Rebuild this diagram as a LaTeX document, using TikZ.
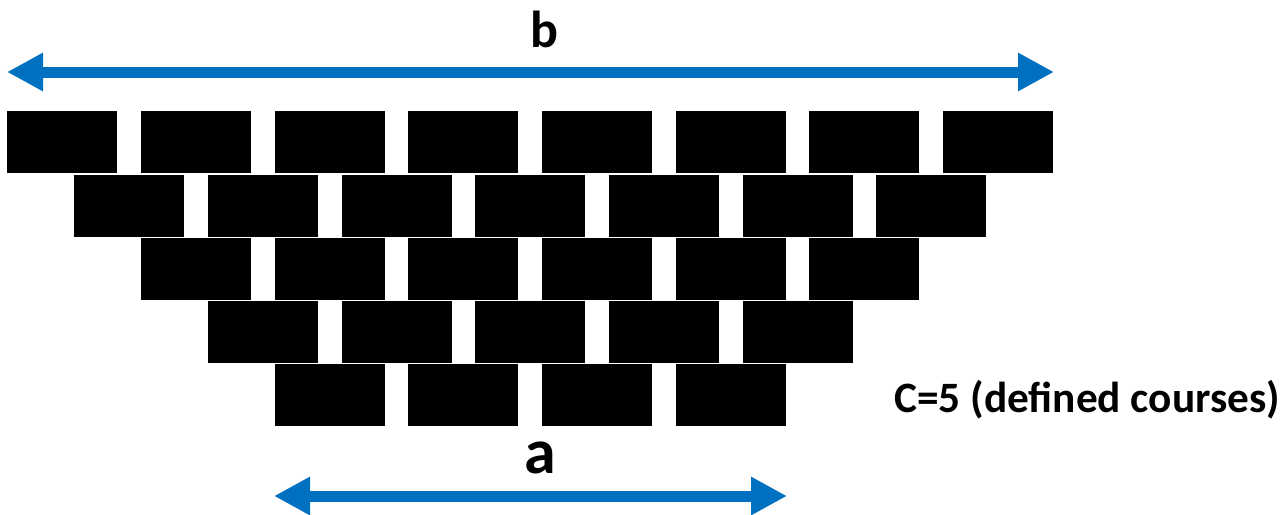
\documentclass[tikz,border=0pt]{standalone}
\usepackage{fontspec}
\setmainfont{Carlito}
\usepackage{tikz}
\usetikzlibrary{arrows.meta}

\begin{document}
\begin{tikzpicture}[x=0.75pt,y=-0.75pt]
\tikzset{>={Triangle[length=27pt,width=27pt]}}
\tikzstyle{brick}=[rectangle, fill=black, draw=none, inner sep=0pt, minimum width=82.5pt, minimum height=46.5pt, anchor=north west]
\tikzstyle{dim}=[<->, line width=8.25pt, color=arrowblue]
\definecolor{arrowblue}{HTML}{0070C0}

\useasboundingbox (0,0) rectangle (1287,514);

% courses, from the top one down
\foreach \r/\n in {1/8,2/7,3/6,4/5,5/4}{
  \foreach \k in {1,...,\n}{
    \node[brick] (brick-\r-\k) at ({7+(\r-1)*66.85+(\k-1)*133.7},{111+(\r-1)*63.3}) {};
  }
}

\coordinate (bl) at (7,72);
\coordinate (br) at (1054,72);
\coordinate (al) at (274,496);
\coordinate (ar) at (787,496);

\draw [dim] (bl) to (br);
\draw [dim] (al) to (ar);

\node[inner sep=0pt,anchor=base,font=\fontsize{39}{39}\selectfont\bfseries] (lb) at (544,47) {b};
\node[inner sep=0pt,anchor=base,font=\fontsize{48}{48}\selectfont\bfseries] (la) at (540.5,473) {a};
\node[inner sep=0pt,anchor=base west,font=\fontsize{32.5}{32.5}\selectfont\bfseries] (lc) at (894,412) {C=5 (defined courses)};
\end{tikzpicture}
\end{document}
